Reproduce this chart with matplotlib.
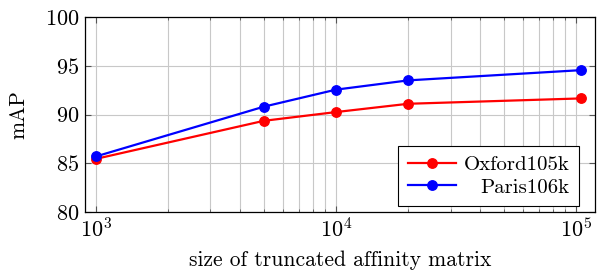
import matplotlib
matplotlib.use("Agg")
import matplotlib.pyplot as plt
from matplotlib.ticker import LogLocator, FixedLocator

# -----------------------
# Data
# -----------------------
sizes = [1e3, 5e3, 1e4, 2e4, 1.05e5]
oxford = [85.45, 89.35, 90.25, 91.1, 91.65]
paris = [85.7, 90.8, 92.55, 93.5, 94.55]
labels = ["Oxford105k", "Paris106k"]
y_ticks = [80, 85, 90, 95, 100]

# -----------------------
# Style
# -----------------------
plt.rcParams["font.family"] = "cmr10"
plt.rcParams["mathtext.fontset"] = "cm"
plt.rcParams["axes.formatter.use_mathtext"] = True

fig = plt.figure(figsize=(5.97, 2.70), dpi=100)
ax = fig.add_axes([85 / 597, 58 / 270, 510 / 597, 195 / 270])

ax.plot(sizes, oxford, color="#ff0000", lw=1.6, marker="o", ms=6.8, label=labels[0], zorder=3)
ax.plot(sizes, paris, color="#0000ff", lw=1.6, marker="o", ms=6.8, label=labels[1], zorder=3)

ax.set_xscale("log")
ax.set_xlim(900, 1.2e5)
ax.set_ylim(80, 100)
ax.xaxis.set_major_locator(LogLocator(base=10, numticks=10))
ax.xaxis.set_minor_locator(LogLocator(base=10, subs=range(2, 10), numticks=20))
ax.yaxis.set_major_locator(FixedLocator(y_ticks))

ax.grid(True, which="both", color="#c8c8c8", lw=0.8)
ax.set_axisbelow(True)
ax.tick_params(which="both", direction="in", top=True, right=True, color="#555555")
ax.tick_params(which="major", length=4, labelsize=16, pad=4)
ax.tick_params(which="minor", length=2.5)
for s in ax.spines.values():
    s.set_linewidth(0.9)

ax.set_xlabel("size of truncated affinity matrix", fontsize=15.5, labelpad=6.5)
ax.set_ylabel("mAP", fontsize=15.5, labelpad=12)

leg = ax.legend(loc="lower right", fontsize=15, fancybox=False, edgecolor="black",
                framealpha=1, handlelength=2.3, handletextpad=0.4, borderpad=0.45,
                labelspacing=0.2, borderaxespad=0, bbox_to_anchor=(0.969, 0.031))
leg.get_frame().set_linewidth(0.8)

# right-align legend texts like pgfplots
fig.canvas.draw()
r = fig.canvas.get_renderer()
texts = leg.get_texts()
widths = [t.get_window_extent(r).width for t in texts]
w_max = max(widths)
for t, w in zip(texts, widths):
    t.set_x(w_max - w)

fig.savefig("out.png", dpi=100)
